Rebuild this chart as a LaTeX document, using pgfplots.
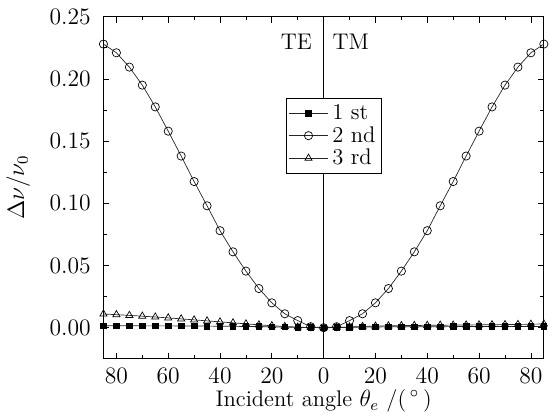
\documentclass[border=0pt]{standalone}
\usepackage{pgfplots}
\pgfplotsset{compat=1.18}
\begin{document}
\begin{tikzpicture}
\begin{axis}[
  scale only axis,
  width=224pt, height=174pt,
  xmin=-85, xmax=85,
  ymin=-0.025, ymax=0.25,
  xtick={-80,-60,-40,-20,0,20,40,60,80},
  minor x tick num=1,
  ytick={0,0.05,0.10,0.15,0.20,0.25},
  minor y tick num=1,
  xticklabel={\pgfmathparse{abs(\tick)}\pgfmathprintnumber{\pgfmathresult}},
  yticklabel style={/pgf/number format/fixed,/pgf/number format/fixed zerofill,/pgf/number format/precision=2, xshift=-3pt},
  xticklabel style={yshift=-1.5pt},
  tick label style={font=\fontsize{11.5}{13}\selectfont},
  label style={font=\fontsize{11.5}{13}\selectfont},
  xlabel={Incident angle $\theta_e$ /(\,$^\circ$\,)},
  ylabel={$\Delta\nu/\nu_0$},
  xlabel style={yshift=4pt},
  ylabel style={yshift=3pt},
  tick style={black, thin},
  major tick length=3pt, minor tick length=1.8pt,
  legend style={at={(0.415,0.762)}, anchor=north west, draw=black, inner sep=1pt,
    font=\fontsize{11.5}{12}\selectfont, row sep=-2pt, cells={anchor=west}},
  legend cell align=left,
  legend image code/.code={\draw[mark repeat=2,mark phase=2] plot coordinates {(0cm,0cm) (0.35cm,0cm) (0.7cm,0cm)};},
  every axis plot/.append style={line width=0.35pt, black!85},
]
\draw[black, line width=0.5pt] (axis cs:0,-0.025) -- (axis cs:0,0.25);
\node[font=\fontsize{11.5}{13}\selectfont] at (axis cs:-10.5,0.230) {TE};
\node[font=\fontsize{11.5}{13}\selectfont] at (axis cs:10.5,0.230) {TM};
\addplot[mark=square*, mark size=1.4pt, mark options={fill=black, draw=black}] coordinates {
  (-85,0.0016) (-80,0.0016) (-75,0.0016) (-70,0.0015) (-65,0.0015) (-60,0.0015)
  (-55,0.0014) (-50,0.0014) (-45,0.0013) (-40,0.0012) (-35,0.0011) (-30,0.0010)
  (-25,0.0009) (-20,0.0007) (-15,0.0005) (-10,0.0003) (-5,0.0001) (0,0)
  (5,0.0001) (10,0.0003) (15,0.0005) (20,0.0006) (25,0.0007) (30,0.0007)
  (35,0.0008) (40,0.0008) (45,0.0008) (50,0.0009) (55,0.0009) (60,0.0009)
  (65,0.0009) (70,0.0010) (75,0.0010) (80,0.0010) (85,0.0010)
};
\addlegendentry{1 st}
\addplot[mark=o, mark size=2.1pt, mark options={fill=white, draw=black}] coordinates {
  (-85,0.228) (-80,0.221) (-75,0.2095) (-70,0.195) (-65,0.1775) (-60,0.158)
  (-55,0.138) (-50,0.1175) (-45,0.098) (-40,0.078) (-35,0.061) (-30,0.0455)
  (-25,0.0315) (-20,0.020) (-15,0.0112) (-10,0.0057) (-5,0.0008) (0,0)
  (5,0.0008) (10,0.0057) (15,0.0112) (20,0.020) (25,0.0315) (30,0.0455)
  (35,0.061) (40,0.078) (45,0.098) (50,0.1175) (55,0.138) (60,0.158)
  (65,0.1775) (70,0.195) (75,0.2095) (80,0.221) (85,0.228)
};
\addlegendentry{2 nd}
\addplot[mark=triangle, mark size=2.1pt, mark options={fill=white, draw=black}] coordinates {
  (-85,0.0110) (-80,0.0105) (-75,0.0099) (-70,0.0093) (-65,0.0086) (-60,0.0079)
  (-55,0.0071) (-50,0.0063) (-45,0.0055) (-40,0.0047) (-35,0.0039) (-30,0.0031)
  (-25,0.0023) (-20,0.0016) (-15,0.0010) (-10,0.0005) (-5,0.0001) (0,0)
  (5,0.0002) (10,0.0006) (15,0.0010) (20,0.0013) (25,0.0015) (30,0.0017)
  (35,0.0018) (40,0.0019) (45,0.0020) (50,0.0021) (55,0.0022) (60,0.0023)
  (65,0.0024) (70,0.0025) (75,0.0026) (80,0.0028) (85,0.0030)
};
\addlegendentry{3 rd}
\end{axis}
\path ([yshift=8.5pt]current axis.north);
\end{tikzpicture}
\end{document}
